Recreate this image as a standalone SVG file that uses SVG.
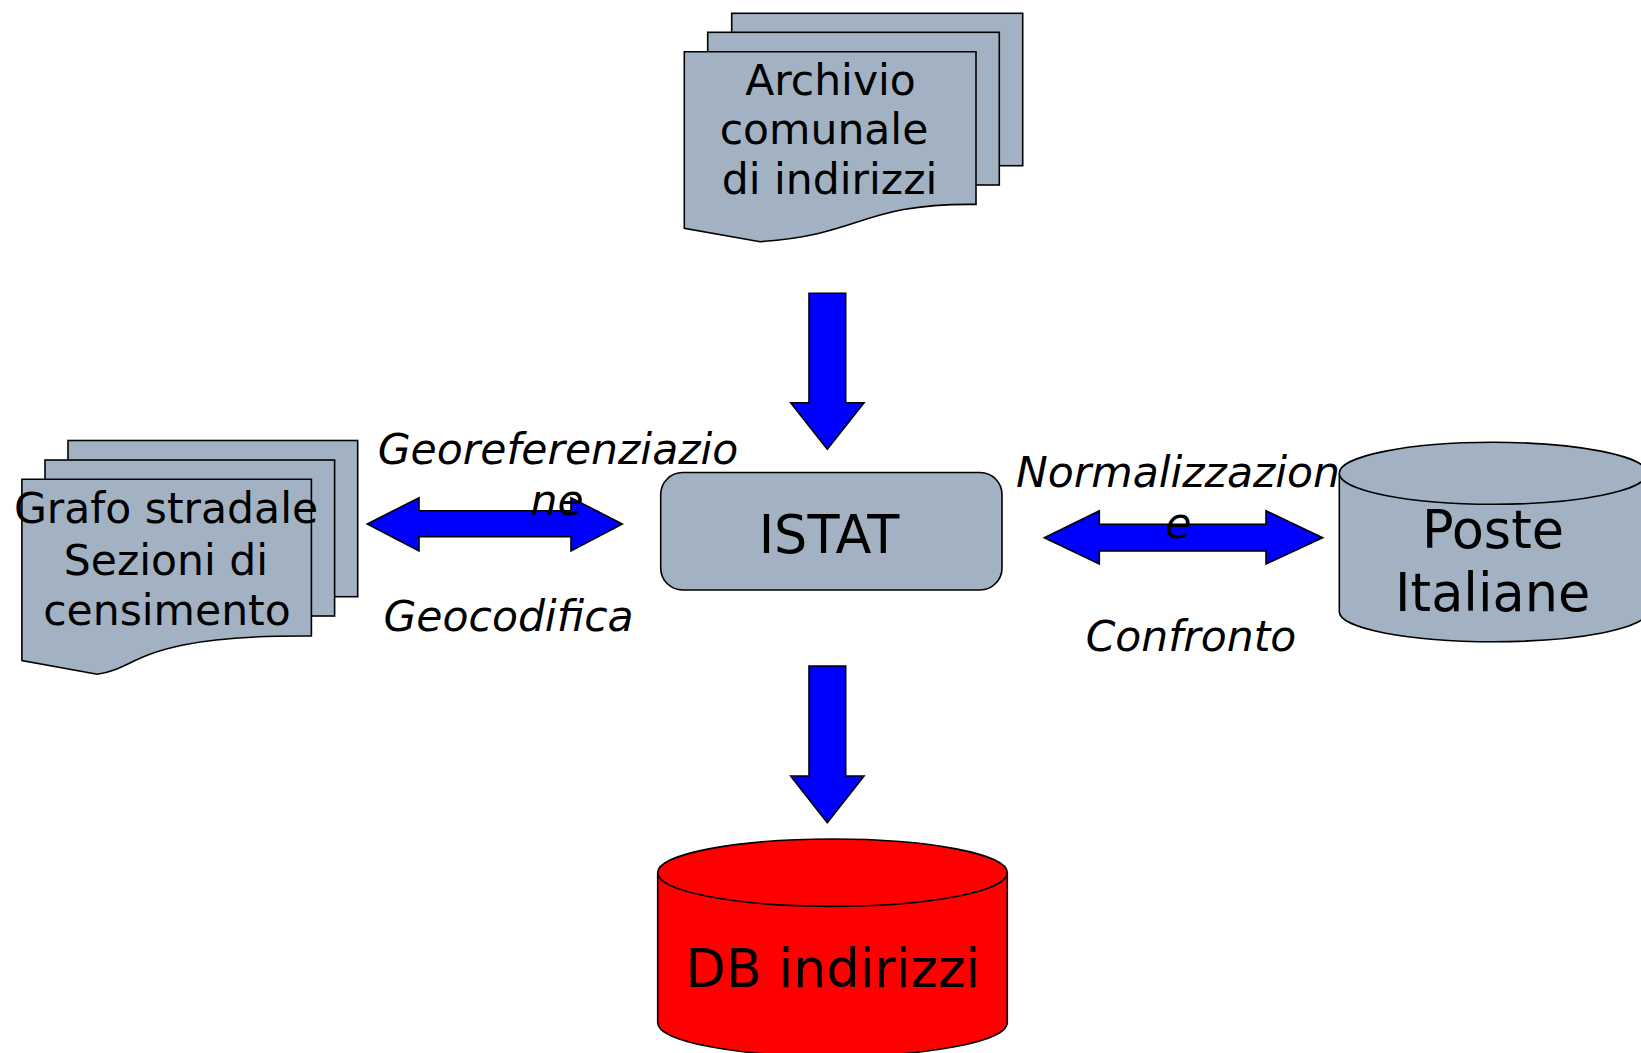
<svg xmlns="http://www.w3.org/2000/svg" width="1641" height="1053" viewBox="0 0 1641 1053">
<style>
.shape{fill:#a2b2c2;stroke:#000;stroke-width:1.6}
.db{fill:#ff0000;stroke:#000;stroke-width:1.6}
.arrow{fill:#0000ff;stroke:#000;stroke-width:1.6;stroke-linejoin:miter}
.t{font-family:"DejaVu Sans","Liberation Sans",sans-serif;fill:#000;text-anchor:middle}
.n{font-size:42.5px}
.b{font-size:52.5px}
.i{font-size:42.5px;font-style:italic}
</style>
<rect width="1641" height="1053" fill="#fff"/>
<g id="archivio">
<rect class="shape" x="731.7" y="13.3" width="291" height="152.4"/>
<rect class="shape" x="707.7" y="32.3" width="291.6" height="152.7"/>
<path class="shape" d="M684.3,51.7 L976,51.7 L976,204.4 C860.5,203.2 864.5,234.4 760.2,241.7 L684.3,228.3 Z"/>
<text class="t n" x="830.5" y="94.5">Archivio</text>
<text class="t n" x="824" y="144">comunale</text>
<text class="t n" x="829.5" y="193.5">di indirizzi</text>
</g>
<g id="grafo">
<rect class="shape" x="68" y="440.5" width="289.7" height="156.2"/>
<rect class="shape" x="45" y="460" width="289.6" height="156"/>
<path class="shape" d="M21.9,479.3 L311.4,479.3 L311.4,636 C136.3,634.7 140.6,668.3 97.2,674.3 L21.9,660.6 Z"/>
<text class="t n" x="166" y="523.3">Grafo stradale</text>
<text class="t n" x="166" y="575">Sezioni di</text>
<text class="t n" x="167" y="625">censimento</text>
</g>
<g id="istat">
<rect class="shape" x="660.7" y="472.5" width="341.3" height="117.5" rx="22" ry="22"/>
<text class="t b" x="829" y="553">ISTAT</text>
</g>
<g id="poste">
<path class="shape" d="M1339.3,473.3 L1339.3,611.7 A154,30 0 0 0 1647.3,611.7 L1647.3,473.3"/>
<ellipse class="shape" cx="1493.3" cy="473.3" rx="154" ry="31"/>
<text class="t b" x="1493" y="547.7">Poste</text>
<text class="t b" x="1492.7" y="611">Italiane</text>
</g>
<g id="db">
<path class="db" d="M657.7,872.7 L657.7,1022.7 A174.8,33.7 0 0 0 1007.3,1022.7 L1007.3,872.7"/>
<ellipse class="db" cx="832.5" cy="872.7" rx="174.8" ry="33.7"/>
<text class="t b" x="833" y="986.7">DB indirizzi</text>
</g>
<g id="connectors">
<polygon class="arrow" points="809,293.3 845.7,293.3 845.7,402.7 864,402.7 827.3,449.3 790.7,402.7 809,402.7"/>
<polygon class="arrow" points="809,666 845.7,666 845.7,776 864,776 827.3,822.7 790.7,776 809,776"/>
<polygon class="arrow" points="367.3,524 419,497.7 419,510.7 571,510.7 571,497.7 622.3,524 571,551 571,536.7 419,536.7 419,551"/>
<polygon class="arrow" points="1044.3,537.7 1099.3,510.7 1099.3,524.3 1266,524.3 1266,510.7 1322.7,537.7 1266,564 1266,551 1099.3,551 1099.3,564"/>
</g>
<g id="labels">
<text class="t i" x="558" y="464">Georeferenziazio</text>
<text class="t i" x="557" y="515">ne</text>
<text class="t i" x="508.5" y="630.7">Geocodifica</text>
<text class="t i" x="1178" y="486.7">Normalizzazion</text>
<text class="t i" x="1178.3" y="538.3">e</text>
<text class="t i" x="1191" y="650.7">Confronto</text>
</g>
</svg>
